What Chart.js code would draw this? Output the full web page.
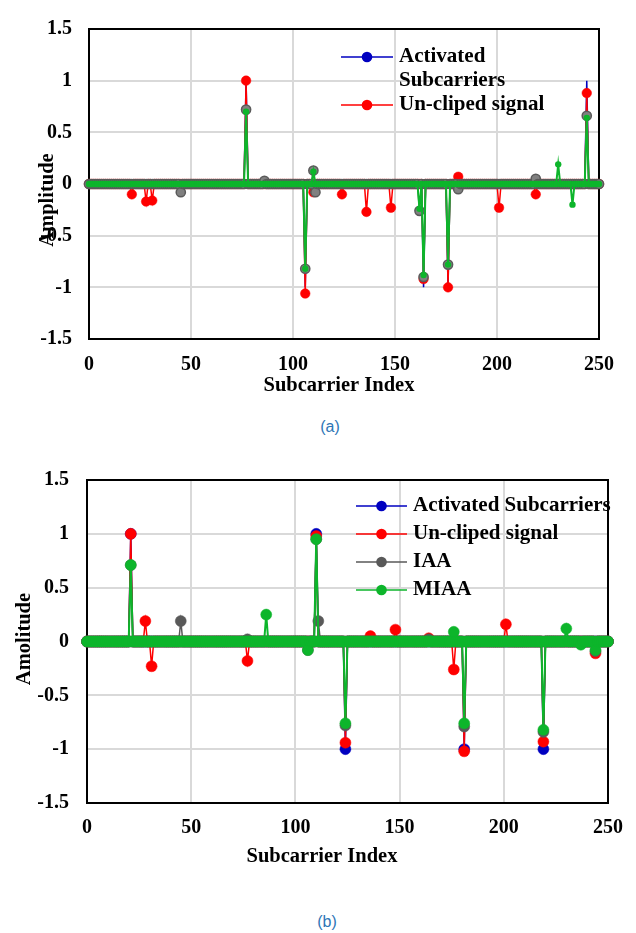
<!DOCTYPE html>
<html>
<head>
<meta charset="utf-8">
<script src="https://cdn.jsdelivr.net/npm/chart.js@4.4.1/dist/chart.umd.min.js"></script>
<style>
  html, body { margin: 0; padding: 0; background: #fff; }
  body { width: 636px; height: 933px; position: relative; overflow: hidden; }
  .panel { position: absolute; left: 0; width: 636px; }
  .caption { position: absolute; width: 60px; height: 20px; line-height: 20px; text-align: center;
             font: 16px "Liberation Sans", Arial, sans-serif; color: #2e75b6; }
</style>
</head>
<body>
<div class="panel" style="top:0;height:400px"><canvas id="chart-a"></canvas></div>
<div class="caption" style="left:300px;top:418px">(a)</div>
<div class="panel" style="top:450px;height:420px"><canvas id="chart-b"></canvas></div>
<div class="caption" style="left:297px;top:913px">(b)</div>
<script>
// ── Axis ticks ────────────────────────────────────────
const xTicks = [0, 50, 100, 150, 200, 250];
const yTicks = [-1.5, -1, -0.5, 0, 0.5, 1, 1.5];
const LAST_SUB = 250;

// ── Panel (a): non-zero subcarriers per series ────────
const actA_idx = [77, 106, 164, 176, 244];
const actA_val = [1, -1, -1, -1, 1];
const unclA_idx = [21, 28, 31, 77, 106, 110, 124, 136, 148, 164, 176, 181, 201, 219, 244];
const unclA_val = [-0.10, -0.17, -0.16, 1.0, -1.06, -0.08, -0.10, -0.27, -0.23, -0.92, -1.0, 0.07, -0.23, -0.10, 0.88];
const iaaA_idx = [45, 77, 86, 106, 110, 111, 162, 164, 176, 181, 219, 244];
const iaaA_val = [-0.08, 0.72, 0.03, -0.82, 0.13, -0.08, -0.26, -0.90, -0.78, -0.05, 0.05, 0.66];
const miaaA_idx = [77, 106, 110, 162, 164, 176, 230, 237, 244, 251];
const miaaA_val = [0.70, -0.82, 0.12, -0.24, -0.88, -0.78, 0.19, -0.20, 0.64, 0.22];

// ── Panel (b): non-zero subcarriers per series ────────
const actB_idx = [21, 110, 124, 181, 219];
const actB_val = [1, 1, -1, -1, -1];
const unclB_idx = [21, 28, 31, 77, 110, 124, 136, 148, 164, 176, 181, 201, 219, 244];
const unclB_val = [1.0, 0.19, -0.23, -0.18, 0.98, -0.94, 0.05, 0.11, 0.03, -0.26, -1.02, 0.16, -0.93, -0.11];
const iaaB_idx = [21, 45, 77, 106, 110, 111, 124, 164, 181, 219, 244];
const iaaB_val = [0.71, 0.19, 0.02, -0.08, 0.95, 0.19, -0.78, 0.02, -0.79, -0.84, -0.09];
const miaaB_idx = [21, 86, 106, 110, 124, 176, 181, 219, 230, 237, 244];
const miaaB_val = [0.71, 0.25, -0.08, 0.95, -0.76, 0.09, -0.76, -0.82, 0.12, -0.03, -0.08];

// every subcarrier 0..last, zero where nothing is listed
function stems(idx, val) {
  const last = Math.max(LAST_SUB, ...idx);
  const pts = [];
  for (let i = 0; i <= last; i++) {
    const k = idx.indexOf(i);
    pts.push({ x: i, y: k < 0 ? 0 : val[k] });
  }
  return pts;
}

const BLUE = '#0000c0', RED = '#ff0000', GRAY = '#595959', GREEN = '#0db52b';
const FONT = '"Liberation Serif", "Times New Roman", serif';

function series(label, data, color, order, extra) {
  return Object.assign({
    label, data, order,
    borderColor: color, backgroundColor: color,
    pointBackgroundColor: color, pointBorderColor: color,
    borderWidth: 1.5, pointRadius: 5.5, pointBorderWidth: 0.5,
    pointHoverRadius: 0, tension: 0, clip: false
  }, extra || {});
}

// ── Plugins: frame, legend with line+dot, axis titles ──
const frame = {
  id: 'frame',
  beforeDatasetsDraw(chart) {
    const { ctx, chartArea: a } = chart;
    ctx.save();
    ctx.strokeStyle = '#000';
    ctx.lineWidth = 2;
    ctx.strokeRect(a.left, a.top, a.right - a.left, a.bottom - a.top);
    ctx.restore();
  }
};

const stemLegend = {
  id: 'stemLegend',
  afterDraw(chart, args, o) {
    const ctx = chart.ctx;
    ctx.save();
    ctx.font = o.font;
    ctx.textBaseline = 'middle';
    o.rows.forEach((r, i) => {
      const y = o.top + i * o.step;
      if (r.color) {
        ctx.strokeStyle = r.color;
        ctx.lineWidth = 1.5;
        ctx.beginPath(); ctx.moveTo(o.x0, y); ctx.lineTo(o.x1, y); ctx.stroke();
        ctx.fillStyle = r.color;
        ctx.beginPath(); ctx.arc((o.x0 + o.x1) / 2, y, 5.3, 0, Math.PI * 2); ctx.fill();
      }
      ctx.fillStyle = '#000';
      ctx.fillText(r.text, o.textX, y);
    });
    ctx.restore();
  }
};

const axisTitles = {
  id: 'axisTitles',
  afterDraw(chart, args, o) {
    const ctx = chart.ctx;
    ctx.save();
    ctx.font = o.font;
    ctx.fillStyle = '#000';
    ctx.textAlign = 'center';
    ctx.textBaseline = 'middle';
    ctx.fillText(o.x.text, o.x.cx, o.x.cy);
    ctx.translate(o.y.cx, o.y.cy);
    ctx.rotate(-Math.PI / 2);
    ctx.fillText(o.y.text, 0, 0);
    ctx.restore();
  }
};

function scales(yWidth, xHeight, yPad, xPad) {
  const tickFont = { family: FONT, size: 20, weight: 'bold' };
  const grid = { color: '#d9d9d9', lineWidth: 2, drawTicks: false };
  return {
    x: {
      type: 'linear', min: 0, max: 250,
      afterBuildTicks: s => { s.ticks = xTicks.map(v => ({ value: v })); },
      afterFit: s => { s.height = xHeight; },
      ticks: { color: '#000', font: tickFont, padding: xPad, maxRotation: 0, callback: v => String(v) },
      grid, border: { display: false }
    },
    y: {
      min: -1.5, max: 1.5,
      afterBuildTicks: s => { s.ticks = yTicks.map(v => ({ value: v })); },
      afterFit: s => { s.width = yWidth; },
      ticks: { color: '#000', font: tickFont, padding: yPad, callback: v => String(v) },
      grid, border: { display: false }
    }
  };
}

// ── Panel (a) ─────────────────────────────────────────
new Chart(document.getElementById('chart-a'), {
  type: 'line',
  data: {
    datasets: [
      series('Activated Subcarriers', stems(actA_idx, actA_val), BLUE, 3, { pointRadius: 0 }),
      series('Un-cliped signal', stems(unclA_idx, unclA_val), RED, 2, { pointRadius: 4.8 }),
      series('IAA', stems(iaaA_idx, iaaA_val), '#6b6b6b', 1,
        { pointBackgroundColor: '#808080', pointBorderColor: '#5a5a5a', pointRadius: 4.6, pointBorderWidth: 1.5 }),
      series('MIAA', stems(miaaA_idx, miaaA_val), GREEN, 0,
        { borderWidth: 2, pointRadius: c => (c.raw && c.raw.x > 250 ? 0 : 3.2), pointBorderWidth: 0 })
    ]
  },
  options: {
    responsive: true, maintainAspectRatio: false, animation: false,
    layout: { padding: { left: 0, top: 24, right: 37, bottom: 0 } },
    scales: scales(89, 61, 17, 14),
    plugins: {
      legend: { display: false }, tooltip: { enabled: false },
      stemLegend: {
        font: 'bold 21px ' + FONT, x0: 341, x1: 393, textX: 399, top: 57, step: 24,
        rows: [
          { color: BLUE, text: 'Activated' },
          { text: 'Subcarriers' },
          { color: RED, text: 'Un-cliped signal' }
        ]
      },
      axisTitles: {
        font: 'bold 20.5px ' + FONT,
        x: { text: 'Subcarrier Index', cx: 339, cy: 386 },
        y: { text: 'Amplitude', cx: 48, cy: 200 }
      }
    }
  },
  plugins: [frame, stemLegend, axisTitles]
});

// ── Panel (b) ─────────────────────────────────────────
new Chart(document.getElementById('chart-b'), {
  type: 'line',
  data: {
    datasets: [
      series('Activated Subcarriers', stems(actB_idx, actB_val), BLUE, 3),
      series('Un-cliped signal', stems(unclB_idx, unclB_val), RED, 2),
      series('IAA', stems(iaaB_idx, iaaB_val), GRAY, 1),
      series('MIAA', stems(miaaB_idx, miaaB_val), GREEN, 0, { borderWidth: 2 })
    ]
  },
  options: {
    responsive: true, maintainAspectRatio: false, animation: false,
    layout: { padding: { left: 0, top: 26, right: 18, bottom: 0 } },
    scales: scales(87, 67, 18, 13),
    plugins: {
      legend: { display: false }, tooltip: { enabled: false },
      stemLegend: {
        font: 'bold 21px ' + FONT, x0: 356, x1: 407, textX: 413, top: 56, step: 28,
        rows: [
          { color: BLUE, text: 'Activated Subcarriers' },
          { color: RED, text: 'Un-cliped signal' },
          { color: GRAY, text: 'IAA' },
          { color: GREEN, text: 'MIAA' }
        ]
      },
      axisTitles: {
        font: 'bold 20.5px ' + FONT,
        x: { text: 'Subcarrier Index', cx: 322, cy: 407 },
        y: { text: 'Amolitude', cx: 25, cy: 189 }
      }
    }
  },
  plugins: [frame, stemLegend, axisTitles]
});
</script>
</body>
</html>
